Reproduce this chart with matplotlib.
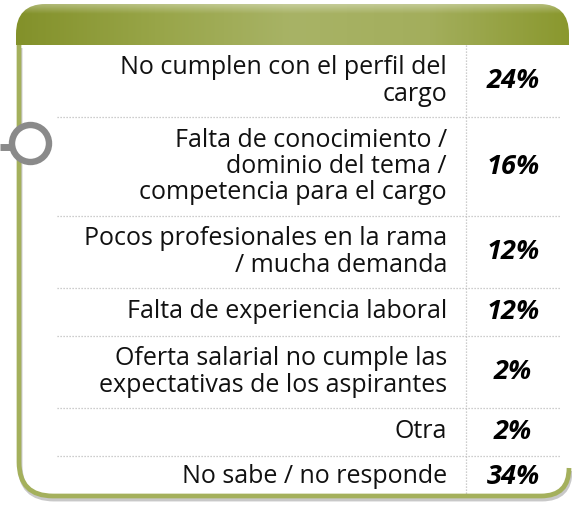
import numpy as np
import matplotlib.pyplot as plt
from matplotlib.path import Path
from matplotlib.patches import PathPatch, Circle
from matplotlib.colors import LinearSegmentedColormap

labels = ['No cumplen con el perfil del\ncargo',
          'Falta de conocimiento /\ndominio del tema /\ncompetencia para el cargo',
          'Pocos profesionales en la rama\n/ mucha demanda',
          'Falta de experiencia laboral',
          'Oferta salarial no cumple las\nexpectativas de los aspirantes',
          'Otra',
          'No sabe / no responde']
values = [24, 16, 12, 12, 2, 2, 34]

# layout in pixels (y grows downwards)
row_edges = [45, 117, 216, 288, 336, 408, 456, 497]
W, H = 572, 505

fig = plt.figure(figsize=(W/100, H/100), dpi=100)
ax = fig.add_axes([0, 0, 1, 1])
ax.set_xlim(0, W)
ax.set_ylim(H, 0)
ax.axis('off')

# header with rounded top corners
x0, x1, y0, y1, r = 16, 569, 4, 45, 30
verts = [(x0, y1), (x0, y0+r), (x0, y0), (x0+r, y0), (x1-r, y0), (x1, y0), (x1, y0+r), (x1, y1), (x0, y1)]
codes = [Path.MOVETO, Path.LINETO, Path.CURVE3, Path.CURVE3, Path.LINETO, Path.CURVE3, Path.CURVE3, Path.LINETO, Path.CLOSEPOLY]
head = PathPatch(Path(verts, codes), facecolor='none', edgecolor='none')
ax.add_patch(head)
cmap = LinearSegmentedColormap.from_list('hdr', ['#83912a', '#98a548', '#a8b366', '#a3ae5c', '#8a982e'])
grad = np.tile(np.linspace(0, 1, 300), (40, 1))
im = ax.imshow(grad, cmap=cmap, extent=[x0, x1, y1, y0], aspect='auto', zorder=1)
im.set_clip_path(head)
# light top highlight
hl = ax.imshow(np.tile(np.linspace(0.35, 0, 40)[:, None], (1, 10)), cmap=LinearSegmentedColormap.from_list('w', [(1, 1, 1, 0), (1, 1, 1, 1)]),
               extent=[x0, x1, y0+10, y0], aspect='auto', zorder=2, vmin=0, vmax=1)
hl.set_clip_path(head)

# frame: left + bottom with rounded corners
bx, by, br = 19, 496, 34
fverts = [(bx, y1), (bx, by-br), (bx, by), (bx+br, by), (x1-28, by), (x1, by), (x1, by-28)]
fcodes = [Path.MOVETO, Path.LINETO, Path.CURVE3, Path.CURVE3, Path.LINETO, Path.CURVE3, Path.CURVE3]
shadow = [(vx+1, vy+3) for vx, vy in fverts]
ax.add_patch(PathPatch(Path(shadow, fcodes), facecolor='none', edgecolor='#c8c8c8', lw=3.5, zorder=2))
ax.add_patch(PathPatch(Path(fverts, fcodes), facecolor='none', edgecolor='#a4b05c', lw=3.4, zorder=3,
                       capstyle='butt'))

# separators
for yy in row_edges[1:-1]:
    ax.plot([57, 560], [yy, yy], color='#bdbdbd', lw=0.9, ls=(0, (1, 1.4)), zorder=2)
ax.plot([466, 466], [y1, 497], color='#bdbdbd', lw=0.9, ls=(0, (1, 1.4)), zorder=2)

# connector ring
ax.plot([0, 14], [147, 147], color='#8a8a8a', lw=5, solid_capstyle='butt', zorder=4)
ax.add_patch(Circle((30.5, 143.5), 18.5, facecolor='white', edgecolor='#8a8a8a', lw=4.6, zorder=5))

font = 'Open Sans'
for i, (lab, v) in enumerate(zip(labels, values)):
    yc = (row_edges[i] + row_edges[i+1]) / 2
    ax.text(447, yc, lab, ha='right', va='center', multialignment='right', fontsize=18,
            family=font, color='#111111', linespacing=1.06, zorder=6)
    ax.text(513, yc, f'{v}%', ha='center', va='center', fontsize=19.5, fontweight='bold',
            fontstyle='italic', family=font, color='black', zorder=6)

fig.savefig('out.png', dpi=100)
